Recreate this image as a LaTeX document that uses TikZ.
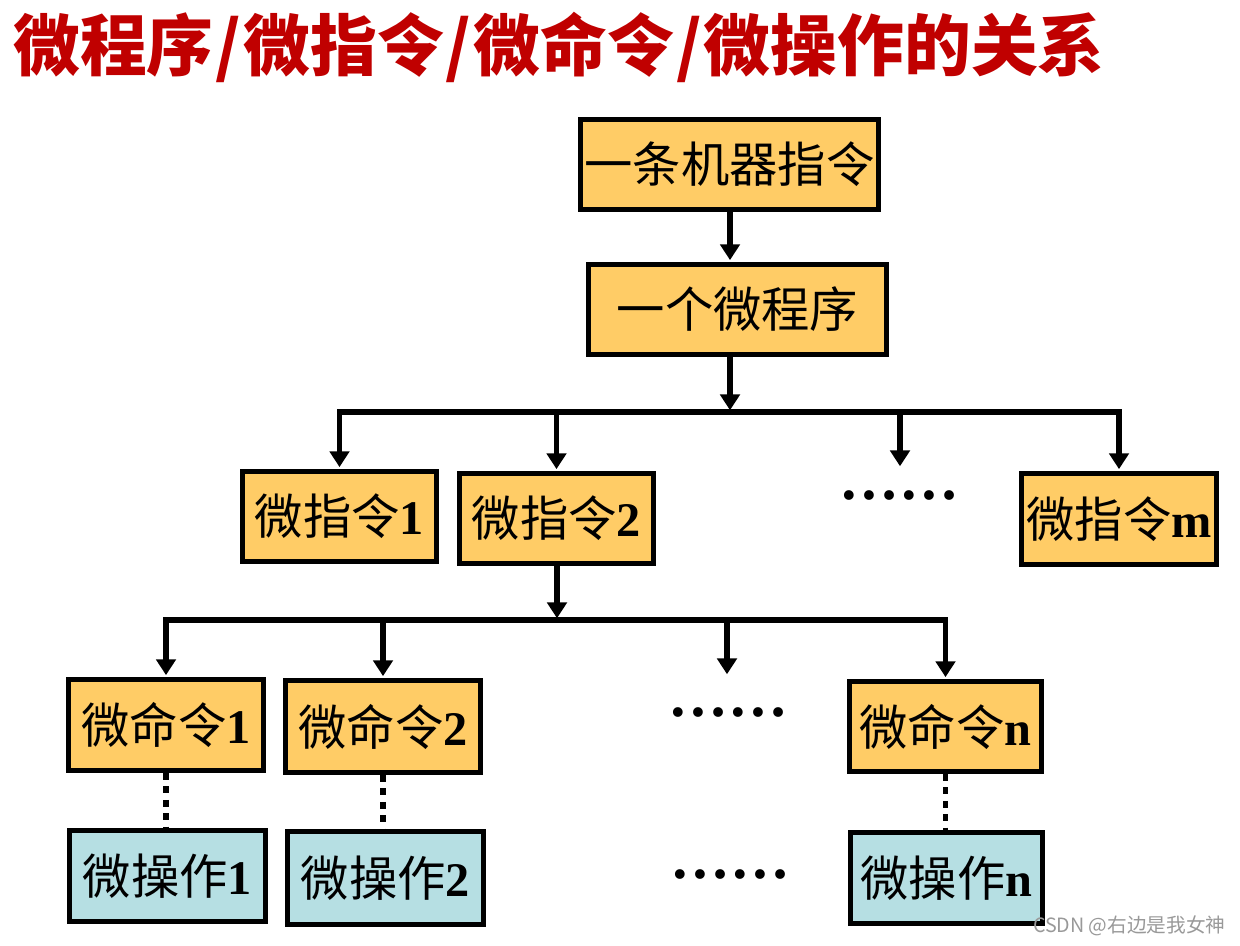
\documentclass[tikz,border=0pt]{standalone}
\usepackage{fontspec}
\setmainfont{Liberation Serif}
\newfontfamily\cjk{Noto Sans CJK SC}
\usetikzlibrary{arrows.meta}
\definecolor{orangebox}{HTML}{FFCC66}
\definecolor{bluebox}{HTML}{B6DFE3}
\definecolor{titlered}{HTML}{C00000}
\newcommand{\boxfont}{\fontsize{27.5}{30}\selectfont}
\newcommand{\lbl}[2]{{\cjk #1}\textbf{#2}}
\newcommand{\tsl}{\kern1.2pt/\kern1.2pt}
\tikzset{
  box/.style={draw, line width=3pt, inner sep=0pt, font=\boxfont, text=black},
  org/.style={box, fill=orangebox},
  blu/.style={box, fill=bluebox},
  arr/.style={line width=3.1pt, -{Triangle[width=11pt,length=9pt]}, shorten >=1pt},
  bus/.style={line width=3.1pt, {Triangle[width=11pt,length=9pt]}-{Triangle[width=11pt,length=9pt]}, line join=miter, shorten >=1pt, shorten <=1pt},
  dotline/.style={line width=3.3pt, dash pattern=on 3.8pt off 3.8pt},
  ell/.style={font=\fontsize{34}{36}\selectfont\bfseries, inner sep=0pt}
}
\begin{document}
\begin{tikzpicture}[x=0.02cm, y=-0.02cm]
\useasboundingbox (0,0) rectangle (1240,946);
% title
\node[anchor=west, inner sep=0pt, text=titlered, font=\cjk\bfseries\fontsize{38}{40}\selectfont] (title) at (13,47) {微程序\tsl 微指令\tsl 微命令\tsl 微操作的关系};
% level nodes
\node[org, minimum width=5.96cm, minimum height=1.8cm] (A) at (729.5,164.5) {{\cjk 一条机器指令}};
\node[org, minimum width=5.96cm, minimum height=1.8cm] (B) at (737.5,309.5) {{\cjk 一个微程序}};
\node[org, minimum width=3.88cm, minimum height=1.8cm] (C1) at (339.5,516.5) {\lbl{微指令}{1}};
\node[org, minimum width=3.88cm, minimum height=1.8cm] (C2) at (556.5,518.5) {\lbl{微指令}{2}};
\node[org, minimum width=3.9cm, minimum height=1.82cm] (Cm) at (1119,519) {\lbl{微指令}{m}};
\node[org, minimum width=3.9cm, minimum height=1.82cm] (D1) at (166,725) {\lbl{微命令}{1}};
\node[org, minimum width=3.9cm, minimum height=1.84cm] (D2) at (383,726.5) {\lbl{微命令}{2}};
\node[org, minimum width=3.84cm, minimum height=1.8cm] (Dn) at (945.5,726.5) {\lbl{微命令}{n}};
\node[blu, minimum width=3.92cm, minimum height=1.82cm] (E1) at (167.5,876) {\lbl{微操作}{1}};
\node[blu, minimum width=3.92cm, minimum height=1.86cm] (E2) at (385.5,878) {\lbl{微操作}{2}};
\node[blu, minimum width=3.84cm, minimum height=1.82cm] (En) at (946.5,878) {\lbl{微操作}{n}};
% ellipses
\node[ell] (dotsC) at (899,495) {……};
\node[ell] (dotsD) at (728,712) {……};
\node[ell] (dotsE) at (730,874) {……};
% coordinates
\coordinate (bus1) at (730,412);
\coordinate (c3) at (900,468);
\coordinate (bus2) at (557,620);
\coordinate (d3) at (727,676);
% connectors
\draw[arr] (A.south -| bus1) -- (B.north -| bus1);
\draw[arr] (B.south -| bus1) -- (bus1);
\draw[bus] (C1.north) -- (C1.north |- bus1) -- (Cm.north |- bus1) -- (Cm.north);
\draw[arr] (C2.north |- bus1) -- (C2.north);
\draw[arr] (c3 |- bus1) -- (c3);
\draw[arr] (C2.south -| bus2) -- (bus2);
\draw[bus] (D1.north) -- (D1.north |- bus2) -- (Dn.north |- bus2) -- (Dn.north);
\draw[arr] (D2.north |- bus2) -- (D2.north);
\draw[arr] (d3 |- bus2) -- (d3);
\draw[dotline] (D1.south) -- (D1.south |- E1.north);
\draw[dotline] (D2.south) -- (D2.south |- E2.north);
\draw[dotline] (Dn.south) -- (Dn.south |- En.north);
% watermark
\node[anchor=east, inner sep=0pt, text=black!40, font=\cjk\fontsize{11.2}{12}\selectfont] (wm) at (1226,926) {CSDN @右边是我女神};
\end{tikzpicture}
\end{document}
